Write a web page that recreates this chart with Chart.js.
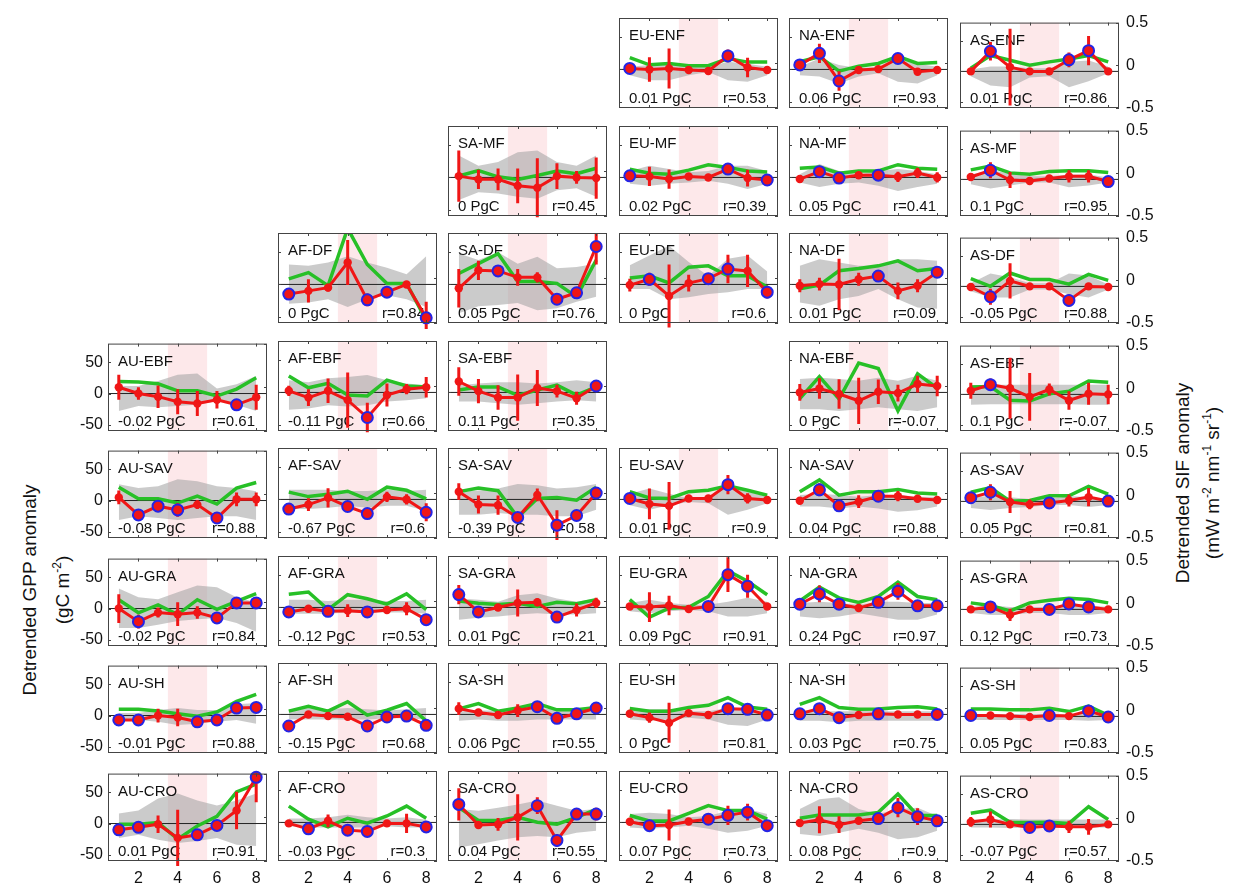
<!DOCTYPE html>
<html>
<head>
<meta charset="utf-8">
<script src="https://cdn.jsdelivr.net/npm/chart.js@4.4.1/dist/chart.umd.min.js"></script>
<style>
  body { margin: 0; width: 1236px; height: 891px; position: relative; overflow: hidden; background: #fff;
         font-family: "Liberation Sans", Arial, sans-serif; color: #111; }
  canvas.panel { position: absolute; }
  .axis-title { position: absolute; white-space: nowrap; font-size: 19px; transform: translate(-50%, -50%) rotate(-90deg); }
  .axis-title sup { font-size: 12px; }
</style>
</head>
<body>
<div class="axis-title" style="left:30px; top:590px">Detrended GPP anomaly</div>
<div class="axis-title" style="left:62px; top:590px">(gC m<sup>-2</sup>)</div>
<div class="axis-title" style="left:1183px; top:483px">Detrended SIF anomaly</div>
<div class="axis-title" style="left:1212px; top:483px">(mW m<sup>-2</sup> nm<sup>-1</sup> sr<sup>-1</sup>)</div>
<script>
const regions = ['AU', 'AF', 'SA', 'EU', 'NA', 'AS'];
const biomes = ['ENF', 'MF', 'DF', 'EBF', 'SAV', 'GRA', 'SH', 'CRO'];
const months = [1, 2, 3, 4, 5, 6, 7, 8];
const xTicks = [2, 4, 6, 8];
const gppTicks = [-50, 0, 50];
const sifTicks = [-0.5, 0, 0.5];
const droughtWindow = [3.5, 5.5];

const panels = [
  'EU-ENF', 'NA-ENF', 'AS-ENF',
  'SA-MF', 'EU-MF', 'NA-MF', 'AS-MF',
  'AF-DF', 'SA-DF', 'EU-DF', 'NA-DF', 'AS-DF',
  'AU-EBF', 'AF-EBF', 'SA-EBF', 'NA-EBF', 'AS-EBF',
  'AU-SAV', 'AF-SAV', 'SA-SAV', 'EU-SAV', 'NA-SAV', 'AS-SAV',
  'AU-GRA', 'AF-GRA', 'SA-GRA', 'EU-GRA', 'NA-GRA', 'AS-GRA',
  'AU-SH', 'AF-SH', 'SA-SH', 'EU-SH', 'NA-SH', 'AS-SH',
  'AU-CRO', 'AF-CRO', 'SA-CRO', 'EU-CRO', 'NA-CRO', 'AS-CRO'
];

const pgc = [
  0.01, 0.06, 0.01,
  0, 0.02, 0.05, 0.1,
  0, 0.05, 0, 0.01, -0.05,
  -0.02, -0.11, 0.11, 0, 0.1,
  -0.08, -0.67, -0.39, 0.01, 0.04, 0.05,
  -0.02, -0.12, 0.01, 0.09, 0.24, 0.12,
  -0.01, -0.15, 0.06, 0, 0.03, 0.05,
  0.01, -0.03, 0.04, 0.07, 0.08, -0.07
];

const rval = [
  0.53, 0.93, 0.86,
  0.45, 0.39, 0.41, 0.95,
  0.84, 0.76, 0.6, 0.09, 0.88,
  0.61, 0.66, 0.35, -0.07, -0.07,
  0.88, 0.6, 0.58, 0.9, 0.88, 0.81,
  0.84, 0.53, 0.21, 0.91, 0.97, 0.73,
  0.88, 0.68, 0.55, 0.81, 0.75, 0.83,
  0.91, 0.3, 0.55, 0.73, 0.9, 0.57
];

// GPP anomaly per month (gC m-2), one row per panel
const gpp = [
  [1.5, 0, 1.5, -1, -2.5, 21, 3, -1],
  [7, 25, -18, -1, 0.5, 17, -3.5, -1],
  [0, 33, 7, 0, 0, 19, 34, 0],
  [2, -3, -3, -13, -16, 2, 0, -1],
  [2.5, 1.5, -2.5, 1.5, 0, 13, -1, -4],
  [-2.5, 9, -1, 3.5, 3.5, 1, 7, 0],
  [4, 15, -1, -2.5, 1.5, 5, 5, -3.5],
  [-15, -10, -5, 34, -24, -12, 0, -52],
  [-6, 22, 21, 11, 11, -23, -13, 59],
  [-1, 8, -18, 2, 9, 24, 21, -12],
  [-2, 0.5, 0, 8, 13, -10, -2, 19],
  [-1, -17, 9, 0, 0, -23, 0, -1],
  [10, 0, -5, -13, -16, -10, -18, -6],
  [2.5, -8, 2.5, -12, -39, -4, 5, 8],
  [17, 2, -8, -8, 7, 2, -9, 10],
  [0, 6, -2.5, -13, 1, -1, 13, 10],
  [6, 16, 10, -4, 8, -10, 1, 0],
  [5, -23, -9, -15, -6.5, -28, 2, 2],
  [-15, -8, 2.5, -11, -22, 4, 0, -20],
  [12, -8, -9, -28, 7, -40, -25, 10],
  [1.5, -7, -10, 1.5, 1.5, 23, 1.5, -1],
  [-2, 15, -10, -3.5, 5, 5, 1, -1],
  [6, 15, -1, -5, -2.5, 1.5, 7, 0.5],
  [0, -21, -6.5, -9, -6.5, -15, 9, 9],
  [-7, -2, -6, -5, -7, -4, -2, -19],
  [20, -7, 0, 7, 8, -15, -4, 7],
  [1.5, 0.5, 3, -2.5, 1.5, 51, 33, 1.5],
  [5, 21, 5, -1, 8, 25, 2.5, 2.5],
  [0, 4, -9, 0, 0, 9, 4, 0],
  [-7, -7, 0, -3, -10, -7, 12, 13],
  [-18, 0, -2.5, -3.5, -18, -4, -2.5, -17],
  [9, 3, -1, 6, 12, -6, 1, 10],
  [1, -5, -13, 2, -1, 9, 8, -1],
  [1, 9, -5, -1, 1, 0, 0, 0],
  [1.5, 1.5, 0.5, -1, 1.5, 0.5, 9, -1],
  [-10, -6, -1, -23, -18, -3, 21, 74],
  [-1.5, -10, 2.5, -12, -14, -1.5, -1.5, -7],
  [28, -4, -3, 8, 26, -28, 13, 13],
  [1, -5, -4, 1.5, 5, 11, 16, -5],
  [-1, 4, -3.5, 2.5, 6, 23, 9, 2.5],
  [4, 8, 0, -5, -2.5, -4, -4, 0]
];

// half length of the GPP error bars
const gppErr = [
  [4, 19, 31, 4, 4, 10, 15, 4],
  [4, 15, 15, 4, 4, 8, 4, 4],
  [4, 15, 63, 4, 4, 12, 24, 4],
  [40, 15, 17, 27, 46, 20, 10, 32],
  [4, 15, 15, 4, 4, 8, 13, 4],
  [6, 5, 4, 4, 4, 8, 8, 8],
  [4, 13, 13, 4, 4, 10, 10, 4],
  [4, 18, 6, 35, 10, 4, 4, 25],
  [30, 15, 6, 13, 8, 6, 6, 28],
  [10, 10, 49, 13, 4, 22, 25, 10],
  [10, 10, 40, 10, 4, 13, 10, 6],
  [4, 13, 29, 4, 4, 10, 4, 4],
  [20, 10, 18, 20, 20, 14, 5, 20],
  [8, 13, 19, 43, 23, 18, 8, 16],
  [22, 19, 19, 36, 28, 10, 10, 4],
  [13, 16, 23, 36, 19, 13, 13, 16],
  [13, 10, 50, 39, 10, 15, 18, 16],
  [11, 8, 4, 11, 7, 7, 11, 11],
  [4, 10, 15, 4, 4, 8, 8, 14],
  [13, 14, 15, 8, 10, 23, 6, 4],
  [4, 24, 37, 4, 4, 15, 8, 4],
  [4, 10, 4, 10, 4, 8, 4, 4],
  [4, 13, 18, 8, 4, 10, 15, 4],
  [23, 11, 8, 19, 10, 8, 6, 6],
  [4, 4, 4, 10, 4, 4, 10, 4],
  [15, 4, 4, 21, 6, 4, 10, 8],
  [4, 23, 15, 4, 4, 27, 18, 4],
  [4, 13, 4, 4, 4, 13, 4, 4],
  [4, 4, 10, 4, 4, 4, 4, 4],
  [4, 4, 11, 14, 4, 4, 4, 4],
  [4, 4, 4, 4, 4, 4, 4, 4],
  [10, 4, 4, 10, 4, 4, 4, 4],
  [4, 8, 31, 5, 4, 4, 4, 4],
  [4, 4, 4, 4, 4, 4, 4, 4],
  [4, 4, 4, 4, 4, 4, 4, 4],
  [4, 4, 14, 45, 4, 4, 30, 40],
  [4, 4, 10, 4, 8, 4, 15, 4],
  [25, 6, 10, 36, 13, 10, 4, 10],
  [4, 4, 24, 4, 4, 15, 13, 4],
  [4, 21, 13, 4, 4, 15, 13, 4],
  [8, 13, 5, 4, 4, 10, 13, 4]
];

// 1 = significant month (ringed marker)
const sig = [
  [1, 0, 0, 0, 0, 1, 0, 0],
  [1, 1, 1, 0, 0, 1, 0, 0],
  [0, 1, 0, 0, 0, 1, 1, 0],
  [0, 0, 0, 0, 0, 0, 0, 0],
  [1, 0, 0, 0, 0, 1, 0, 1],
  [0, 1, 1, 0, 1, 0, 0, 0],
  [0, 1, 0, 0, 0, 0, 0, 1],
  [1, 0, 0, 0, 1, 1, 0, 1],
  [0, 0, 1, 0, 0, 1, 1, 1],
  [0, 1, 0, 0, 1, 1, 0, 1],
  [0, 0, 0, 0, 1, 0, 0, 1],
  [0, 1, 0, 0, 0, 1, 0, 0],
  [0, 0, 0, 0, 0, 0, 1, 0],
  [0, 0, 0, 0, 1, 0, 0, 0],
  [0, 0, 0, 0, 0, 0, 0, 1],
  [0, 0, 0, 0, 0, 0, 0, 0],
  [0, 1, 0, 0, 0, 0, 0, 0],
  [0, 1, 1, 1, 0, 1, 0, 0],
  [1, 0, 0, 1, 1, 0, 0, 1],
  [0, 0, 0, 1, 0, 1, 1, 1],
  [1, 0, 0, 0, 0, 1, 0, 0],
  [0, 1, 1, 0, 1, 0, 0, 0],
  [1, 1, 0, 0, 1, 0, 0, 1],
  [0, 1, 0, 0, 0, 1, 1, 1],
  [1, 0, 1, 0, 1, 0, 0, 1],
  [1, 1, 0, 0, 0, 1, 0, 0],
  [0, 0, 0, 0, 1, 1, 1, 0],
  [1, 1, 1, 0, 1, 1, 1, 1],
  [0, 1, 0, 0, 1, 1, 1, 0],
  [1, 1, 0, 0, 1, 1, 1, 1],
  [1, 0, 0, 0, 1, 1, 1, 1],
  [0, 0, 0, 0, 1, 1, 1, 1],
  [0, 0, 0, 0, 0, 1, 1, 1],
  [1, 1, 1, 0, 1, 0, 0, 1],
  [1, 0, 0, 0, 1, 0, 1, 1],
  [1, 1, 0, 0, 1, 1, 0, 1],
  [0, 1, 0, 1, 1, 0, 0, 1],
  [1, 0, 0, 0, 1, 1, 1, 1],
  [0, 1, 0, 0, 1, 1, 1, 1],
  [0, 0, 0, 0, 1, 1, 1, 1],
  [0, 0, 0, 1, 1, 0, 0, 0]
];

// spread of the reference years, lower and upper edge
const bandLo = [
  [-9, -17, -17, -9, -4, -17, -19, -9],
  [-9, -11, -22, -11, -6, -19, -22, -9],
  [-8, -23, -26, -10, -8, -26, -16, -3],
  [-35, -23, -25, -30, -33, -20, -17, -30],
  [-10, -13, -10, -8, -5, -10, -18, -10],
  [-8, -15, -10, -8, -13, -21, -15, -10],
  [-8, -15, -10, -5, -5, -13, -10, -5],
  [-30, -28, -23, -35, -23, -17, -23, -35],
  [-45, -34, -32, -29, -40, -37, -27, -19],
  [-7, -7, -23, -20, -15, -12, -7, -7],
  [-28, -33, -23, -18, -7, -23, -36, -38],
  [-8, -18, -18, -5, -5, -13, -18, -5],
  [-28, -20, -22, -20, -18, -12, -18, -28],
  [-27, -25, -20, -22, -20, -14, -12, -9],
  [-14, -14, -17, -19, -17, -14, -12, -14],
  [-26, -26, -29, -26, -23, -26, -29, -23],
  [-17, -16, -16, -16, -16, -16, -17, -17],
  [-31, -25, -28, -31, -28, -25, -25, -31],
  [-15, -15, -13, -10, -13, -10, -10, -18],
  [-24, -24, -21, -24, -24, -26, -26, -16],
  [-9, -16, -9, -4, -6, -24, -16, -6],
  [-11, -11, -14, -11, -14, -19, -17, -11],
  [-11, -14, -11, -9, -6, -6, -9, -6],
  [-31, -31, -26, -20, -17, -15, -23, -37],
  [-10, -10, -10, -8, -8, -8, -8, -10],
  [-19, -16, -14, -11, -9, -11, -11, -9],
  [-6, -9, -6, -4, -6, -14, -14, -9],
  [-14, -17, -14, -9, -14, -19, -19, -11],
  [-6, -9, -9, -6, -6, -9, -9, -6],
  [-7, -7, -10, -15, -13, -10, -7, -13],
  [-8, -8, -8, -8, -8, -6, -6, -8],
  [-10, -8, -10, -10, -8, -8, -8, -8],
  [-8, -10, -8, -5, -8, -16, -18, -8],
  [-10, -10, -12, -10, -10, -10, -10, -10],
  [-6, -6, -6, -6, -6, -6, -7, -6],
  [-23, -18, -26, -31, -28, -23, -34, -36],
  [-6, -8, -8, -8, -8, -6, -8, -8],
  [-39, -34, -28, -23, -21, -23, -16, -13],
  [-8, -10, -8, -5, -10, -16, -13, -5],
  [-18, -21, -16, -10, -16, -26, -23, -13],
  [-5, -5, -6, -5, -5, -5, -5, -5]
];

const bandHi = [
  [4, 7, 12, 4, 4, 12, 9, 4],
  [4, 17, 7, 2, 4, 20, 9, 4],
  [3, 8, 8, 5, 5, 16, 18, 8],
  [34, 18, 24, 39, 42, 24, 18, 34],
  [10, 18, 13, 8, 10, 18, 18, 10],
  [5, 21, 10, 5, 10, 13, 10, 5],
  [8, 15, 10, 5, 5, 8, 8, 3],
  [31, 29, 34, 44, 34, 26, 16, 44],
  [48, 38, 50, 32, 43, 25, 27, 32],
  [30, 45, 60, 35, 13, 40, 45, 20],
  [29, 39, 34, 29, 29, 39, 39, 37],
  [5, 21, 15, 5, 5, 21, 18, 3],
  [12, 12, 20, 30, 32, 8, 15, 28],
  [19, 16, 22, 24, 27, 19, 14, 11],
  [11, 14, 16, 16, 14, 16, 19, 16],
  [21, 23, 21, 18, 23, 18, 26, 18],
  [15, 16, 16, 16, 16, 16, 16, 16],
  [26, 20, 23, 34, 31, 23, 20, 15],
  [15, 15, 15, 13, 13, 15, 13, 15],
  [12, 14, 17, 24, 22, 17, 19, 24],
  [9, 17, 9, 2, 4, 20, 12, 4],
  [7, 9, 7, 4, 7, 7, 4, 4],
  [7, 9, 7, 4, 4, 9, 7, 4],
  [32, 18, 15, 26, 37, 34, 18, 10],
  [12, 12, 10, 12, 12, 10, 10, 12],
  [14, 12, 9, 19, 22, 14, 9, 14],
  [7, 12, 7, 4, 4, 9, 15, 9],
  [7, 9, 7, 4, 9, 9, 7, 7],
  [4, 7, 4, 4, 4, 9, 7, 4],
  [4, 4, 9, 12, 9, 9, 18, 20],
  [8, 10, 8, 10, 8, 6, 8, 10],
  [8, 6, 6, 8, 10, 8, 8, 10],
  [8, 8, 8, 5, 5, 10, 8, 5],
  [5, 5, 5, 5, 5, 5, 5, 5],
  [4, 4, 4, 4, 4, 4, 4, 4],
  [16, 21, 40, 48, 37, 29, 37, 48],
  [6, 6, 8, 12, 8, 6, 8, 4],
  [21, 18, 23, 28, 34, 26, 18, 21],
  [13, 15, 13, 8, 10, 18, 21, 13],
  [21, 36, 39, 21, 13, 21, 23, 10],
  [8, 8, 9, 8, 8, 8, 8, 8]
];

// SIF anomaly per month (mW m-2 nm-1 sr-1), right axis
const sif = [
  [0.06, -0.02, -0.005, -0.03, -0.03, 0.05, 0.01, 0.01],
  [0.015, 0.07, -0.09, -0.035, -0.005, 0.075, -0.005, 0.005],
  [-0.035, 0.115, 0.06, 0.0, 0.04, 0.075, 0.115, 0.04],
  [-0.055, 0.005, -0.065, -0.095, -0.05, 0.0, -0.03, 0.03],
  [0.02, -0.025, -0.035, 0.01, 0.07, 0.04, 0.0, -0.01],
  [0.03, 0.045, -0.025, 0.0, 0.0, 0.07, 0.03, 0.02],
  [0.04, 0.085, 0.005, -0.01, 0.02, 0.03, 0.03, 0.01],
  [-0.01, 0.06, -0.085, 0.55, 0.15, -0.06, -0.06, -0.47],
  [0.05, 0.16, 0.27, -0.04, -0.04, -0.06, -0.21, 0.2],
  [0.0, 0.025, -0.055, 0.12, 0.135, 0.025, 0.025, -0.1],
  [-0.12, -0.08, 0.08, 0.105, 0.135, 0.19, 0.08, 0.105],
  [0.02, -0.07, 0.085, 0.01, 0.01, -0.045, 0.07, 0.0],
  [0.065, 0.06, 0.04, -0.04, -0.04, -0.1, -0.02, 0.11],
  [0.11, -0.02, 0.03, -0.1, -0.11, 0.065, 0.0, -0.01],
  [-0.045, -0.01, -0.01, -0.105, -0.045, 0.01, -0.1, -0.01],
  [-0.14, 0.105, -0.145, 0.255, 0.195, -0.275, 0.135, -0.025],
  [0.015, 0.02, -0.14, -0.15, -0.065, -0.035, 0.085, 0.07],
  [0.08, -0.05, -0.05, -0.1, -0.02, -0.11, 0.07, 0.135],
  [0.01, -0.04, -0.015, 0.02, -0.07, 0.065, 0.03, -0.065],
  [0.015, 0.055, 0.025, -0.27, -0.06, -0.05, -0.08, 0.065],
  [0.015, -0.055, -0.06, 0.015, 0.03, 0.08, 0.03, -0.025],
  [0.015, 0.145, -0.025, 0.015, 0.015, 0.04, 0.0, -0.01],
  [0.035, 0.09, -0.07, -0.06, -0.005, -0.005, 0.105, 0.015],
  [0.03, -0.12, -0.03, -0.14, 0.03, -0.08, 0.01, 0.1],
  [0.075, 0.1, -0.095, 0.07, 0.025, -0.035, 0.08, -0.095],
  [0.0, -0.025, -0.04, -0.025, -0.06, -0.015, -0.03, 0.015],
  [0.015, -0.18, -0.08, -0.07, 0.05, 0.335, 0.22, 0.07],
  [0.0, 0.155, 0.035, -0.015, 0.05, 0.21, 0.05, 0.015],
  [0.005, -0.025, -0.09, 0.005, 0.035, 0.06, 0.045, 0.005],
  [0.0, 0.0, -0.02, -0.05, -0.08, -0.03, 0.09, 0.17],
  [-0.035, 0.02, -0.035, 0.07, -0.08, -0.025, 0.05, -0.145],
  [-0.01, 0.05, -0.035, 0.0, 0.05, -0.02, -0.02, 0.005],
  [-0.005, -0.035, -0.035, 0.005, 0.03, 0.115, 0.01, -0.015],
  [0.04, 0.115, 0.005, -0.015, -0.01, 0.005, 0.015, -0.01],
  [0.015, 0.015, 0.005, 0.005, 0.025, -0.015, 0.05, -0.06],
  [-0.08, -0.08, -0.06, -0.25, -0.1, 0.01, 0.29, 0.38],
  [0.11, -0.035, -0.12, -0.025, -0.08, 0.0, 0.11, -0.025],
  [0.095, -0.05, -0.05, -0.015, -0.07, -0.09, -0.015, 0.075],
  [0.005, -0.055, -0.055, 0.03, 0.115, 0.06, 0.06, -0.035],
  [-0.025, 0.01, 0.01, 0.01, 0.04, 0.245, 0.005, 0.005],
  [0.06, 0.095, -0.045, -0.05, -0.045, -0.06, 0.135, -0.015]
];

// panel grid
const PANEL_W = 159, PANEL_H = 90;
const COL_X0 = 107.5, COL_STEP = 170.4;
const ROW_Y0 = 18.3, ROW_STEP = 107.5;
const PAD = { l: 46, r: 54, t: 12, b: 28 };
const X_MIN = 0.45, X_MAX = 8.55;

const RED = '#f01616';
const BLUE = '#2424e6';
const GREEN = '#27c027';
const GRAY = 'rgba(160,160,160,0.55)';
const PINK = '#fde8ea';
const FRAME = '#444';
const FONT = '"Liberation Sans", Arial, sans-serif';

Chart.defaults.font.family = FONT;
Chart.defaults.color = '#111';

const panelDecor = {
  id: 'panelDecor',
  beforeDatasetsDraw(chart) {
    const { ctx, chartArea: a, scales: { x } } = chart;
    const x0 = x.getPixelForValue(droughtWindow[0]);
    const x1 = x.getPixelForValue(droughtWindow[1]);
    ctx.save();
    ctx.fillStyle = PINK;
    ctx.fillRect(x0, a.top, x1 - x0, a.bottom - a.top);
    ctx.restore();
  },
  beforeDatasetDraw(chart, args, opts) {
    if (chart.data.datasets[args.index].label !== 'SIF') return;
    const { ctx, chartArea: a } = chart;
    ctx.save();
    ctx.fillStyle = '#111';
    ctx.font = '15px ' + FONT;
    ctx.textBaseline = 'middle';
    ctx.textAlign = 'left';
    ctx.fillText(opts.name, a.left + 10, a.top + 18);
    ctx.fillText(opts.pgc + ' PgC', a.left + 10, a.bottom - 9);
    ctx.textAlign = 'right';
    ctx.fillText('r=' + opts.r, a.right - 12, a.bottom - 9);
    ctx.restore();
  },
  afterDraw(chart) {
    const { ctx, chartArea: a, scales: { x, y, y2 } } = chart;
    ctx.save();
    ctx.strokeStyle = FRAME;
    ctx.lineWidth = 1;
    ctx.strokeRect(a.left + 0.5, a.top + 0.5, a.right - a.left - 1, a.bottom - a.top - 1);
    // short inward tick marks on the frame
    ctx.beginPath();
    xTicks.forEach(v => {
      const px = Math.round(x.getPixelForValue(v)) + 0.5;
      ctx.moveTo(px, a.bottom); ctx.lineTo(px, a.bottom - 3);
      ctx.moveTo(px, a.top); ctx.lineTo(px, a.top + 3);
    });
    gppTicks.forEach(v => {
      const py = Math.round(y.getPixelForValue(v)) + 0.5;
      ctx.moveTo(a.left, py); ctx.lineTo(a.left + 3, py);
    });
    sifTicks.forEach(v => {
      const py = Math.round(y2.getPixelForValue(v)) + 0.5;
      ctx.moveTo(a.right, py); ctx.lineTo(a.right - 3, py);
    });
    ctx.stroke();
    ctx.restore();
  }
};

const toPoints = ys => months.map((m, k) => ({ x: m, y: ys[k] }));

function errorSegments(vals, errs) {
  const out = [];
  months.forEach((m, k) => {
    out.push({ x: m, y: vals[k] - errs[k] }, { x: m, y: vals[k] + errs[k] }, { x: m, y: null });
  });
  return out;
}

panels.forEach((name, i) => {
  const [reg, bio] = name.split('-');
  const col = regions.indexOf(reg);
  const row = biomes.indexOf(bio);
  const left = Math.round(COL_X0 + COL_STEP * col);
  const top = Math.round(ROW_Y0 + ROW_STEP * row);

  const cv = document.createElement('canvas');
  cv.className = 'panel';
  cv.width = PANEL_W + PAD.l + PAD.r;
  cv.height = PANEL_H + PAD.t + PAD.b;
  cv.style.left = (left - PAD.l) + 'px';
  cv.style.top = (top - PAD.t) + 'px';
  document.body.appendChild(cv);

  const showX = row === biomes.length - 1;
  const showLeft = col === 0;
  const showRight = col === regions.length - 1;
  const tickFont = { size: 16, family: FONT };

  new Chart(cv, {
    type: 'line',
    data: {
      datasets: [
        { label: 'lo', data: toPoints(bandLo[i]), yAxisID: 'y', borderWidth: 0, borderColor: 'rgba(0,0,0,0)',
          pointRadius: 0, fill: false, order: 10 },
        { label: 'hi', data: toPoints(bandHi[i]), yAxisID: 'y', borderWidth: 0, borderColor: 'rgba(0,0,0,0)',
          pointRadius: 0, fill: '-1', backgroundColor: GRAY, order: 9 },
        { label: 'zero', data: [{ x: X_MIN, y: 0 }, { x: X_MAX, y: 0 }], yAxisID: 'y',
          borderColor: '#222', borderWidth: 1, pointRadius: 0, order: 8 },
        { label: 'SIF', data: toPoints(sif[i]), yAxisID: 'y2', borderColor: GREEN, borderWidth: 3.5,
          pointRadius: 0, order: 7 },
        { label: 'err', data: errorSegments(gpp[i], gppErr[i]), yAxisID: 'y', borderColor: RED, borderWidth: 3,
          pointRadius: 0, spanGaps: false, order: 6, clip: { left: 2, top: 0, right: 2, bottom: 6 } },
        { label: 'GPP', data: toPoints(gpp[i]), yAxisID: 'y', borderColor: RED, borderWidth: 3,
          pointRadius: sig[i].map(s => s ? 5.5 : 4.2),
          pointBackgroundColor: RED,
          pointBorderColor: sig[i].map(s => s ? BLUE : RED),
          pointBorderWidth: sig[i].map(s => s ? 2 : 0),
          order: 5, clip: 8 }
      ]
    },
    options: {
      responsive: false,
      animation: false,
      events: [],
      layout: { padding: { top: PAD.t, left: 0, right: 0, bottom: 0 } },
      plugins: {
        legend: { display: false },
        tooltip: { enabled: false },
        panelDecor: { name, pgc: String(pgc[i]), r: String(rval[i]) }
      },
      scales: {
        x: {
          type: 'linear', min: X_MIN, max: X_MAX,
          grid: { display: false, drawTicks: false }, border: { display: false },
          ticks: { display: showX, font: tickFont, padding: 8, color: '#111' },
          afterBuildTicks: s => { s.ticks = xTicks.map(v => ({ value: v })); },
          afterFit: s => { s.height = PAD.b; }
        },
        y: {
          position: 'left', min: -60, max: 80,
          grid: { display: false, drawTicks: false }, border: { display: false },
          ticks: { display: showLeft, font: tickFont, padding: 5, color: '#111' },
          afterBuildTicks: s => { s.ticks = gppTicks.map(v => ({ value: v })); },
          afterFit: s => { s.width = PAD.l; }
        },
        y2: {
          position: 'right', min: -0.5, max: 0.5,
          grid: { display: false, drawTicks: false }, border: { display: false },
          ticks: { display: showRight, font: tickFont, padding: 7, color: '#111', callback: v => String(v) },
          afterBuildTicks: s => { s.ticks = sifTicks.map(v => ({ value: v })); },
          afterFit: s => { s.width = PAD.r; }
        }
      }
    },
    plugins: [panelDecor]
  });
});
</script>
</body>
</html>
